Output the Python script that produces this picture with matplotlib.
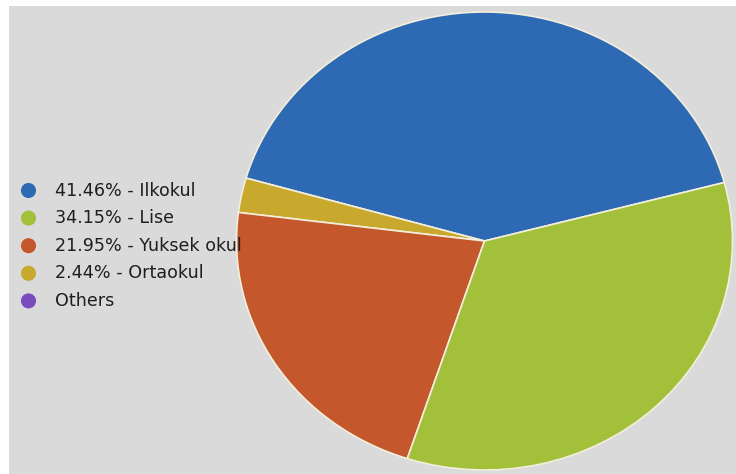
import matplotlib
matplotlib.use("Agg")
import matplotlib.pyplot as plt
from matplotlib.patches import Rectangle

# Education level shares
labels = ["Ilkokul", "Lise", "Yuksek okul", "Ortaokul", "Others"]
shares = [41.46, 34.15, 21.95, 2.44, 0.0]
colors = ["#2e6ab4", "#a2c03a", "#c4582c", "#c8a92e", "#7a4bbd"]

# Pie is drawn counter-clockwise: Ilkokul, Ortaokul, Yuksek okul, Lise
pie_order = [0, 3, 2, 1]

W, H = 736, 474
fig = plt.figure(figsize=(W / 100, H / 100), dpi=100)
fig.patch.set_facecolor("white")

# grey panel
bg = fig.add_axes([0, 0, 1, 1], zorder=0)
bg.set_xlim(0, W)
bg.set_ylim(H, 0)
bg.axis("off")
bg.add_patch(Rectangle((9, 6), W - 9, H - 6, facecolor="#dadada", edgecolor="none"))

# pie axes (slightly stretched horizontally)
cx, cy, rx, ry = 484.5, 241, 248, 229
ax = fig.add_axes([(cx - rx) / W, (H - cy - ry) / H, 2 * rx / W, 2 * ry / H], zorder=1)
ax.pie([shares[i] for i in pie_order],
       colors=[colors[i] for i in pie_order],
       startangle=14.8, counterclock=True, radius=1,
       wedgeprops=dict(edgecolor="#f4eedc", linewidth=1.2))
ax.set_aspect("auto")
ax.set_xlim(-1, 1)
ax.set_ylim(-1, 1)
ax.axis("off")

# legend, drawn above the pie
leg = fig.add_axes([0, 0, 1, 1], zorder=2)
leg.set_xlim(0, W)
leg.set_ylim(H, 0)
leg.axis("off")
leg.patch.set_alpha(0)

y0, dy = 190.5, 27.6
for k, (lab, val, col) in enumerate(zip(labels, shares, colors)):
    y = y0 + k * dy
    leg.scatter([28.5], [y], s=118, color=col, edgecolors="none", zorder=3)
    txt = f"{val:.2f}% - {lab}" if val > 0 else lab
    leg.text(55, y, txt, fontsize=12.6, family="DejaVu Sans", color="#1e1e1e",
             va="center", ha="left", zorder=4)

fig.savefig("out.png", dpi=100, facecolor=fig.get_facecolor())
